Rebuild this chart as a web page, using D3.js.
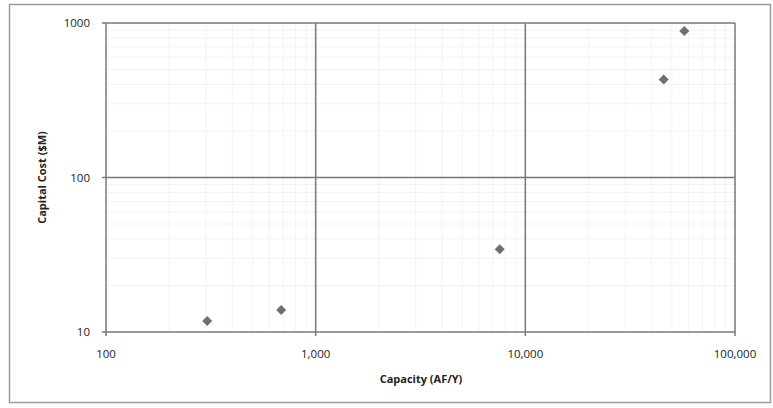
<!DOCTYPE html>
<html>
<head>
<meta charset="utf-8">
<script src="https://cdn.jsdelivr.net/npm/d3@7"></script>
<style>
  body { margin: 0; background: #fff; }
  text { font-family: "Open Sans", Lato, sans-serif; fill: #222; }
</style>
</head>
<body>
<div id="chart"></div>
<script>
// data
const capacity = [304, 685, 7550, 45700, 57300];     // AF/Y
const capitalCost = [11.8, 13.9, 34.3, 431, 888];    // $M
const xTicks = [100, 1000, 10000, 100000];
const yTicks = [10, 100, 1000];

const width = 773;
const height = 408;
const margin = { top: 23, right: 38, bottom: 76, left: 106 };

const svg = d3.select("#chart")
  .append("svg")
  .attr("width", width)
  .attr("height", height);

// outer frame
svg.append("rect")
  .attr("x", 9.5).attr("y", 4.5)
  .attr("width", 761).attr("height", 398)
  .attr("fill", "none")
  .attr("stroke", "#9a9a9a")
  .attr("stroke-width", 1.5);

const x = d3.scaleLog()
  .domain([100, 100000])
  .range([margin.left, width - margin.right]);

const y = d3.scaleLog()
  .domain([10, 1000])
  .range([height - margin.bottom, margin.top]);

// faint minor grid (scan texture)
const minorX = [];
for (let d = 100; d < 100000; d *= 10) for (let k = 2; k < 10; k++) minorX.push(d * k);
const minorY = [];
for (let d = 10; d < 1000; d *= 10) for (let k = 2; k < 10; k++) minorY.push(d * k);

svg.append("g").selectAll("line")
  .data(minorX).enter().append("line")
  .attr("x1", d => x(d)).attr("x2", d => x(d))
  .attr("y1", y(10)).attr("y2", y(1000))
  .attr("stroke", "#f3f3f3").attr("stroke-width", 1);

svg.append("g").selectAll("line")
  .data(minorY).enter().append("line")
  .attr("x1", x(100)).attr("x2", x(100000))
  .attr("y1", d => y(d)).attr("y2", d => y(d))
  .attr("stroke", "#f3f3f3").attr("stroke-width", 1);

// major gridlines
svg.append("g").selectAll("line")
  .data(xTicks).enter().append("line")
  .attr("x1", d => x(d)).attr("x2", d => x(d))
  .attr("y1", y(10) + 4).attr("y2", y(1000))
  .attr("stroke", "#777").attr("stroke-width", 1.5);

svg.append("g").selectAll("line")
  .data(yTicks).enter().append("line")
  .attr("x1", x(100) - 4).attr("x2", x(100000))
  .attr("y1", d => y(d)).attr("y2", d => y(d))
  .attr("stroke", "#777").attr("stroke-width", 1.5);

// tick labels
svg.append("g").selectAll("text")
  .data(xTicks).enter().append("text")
  .attr("x", d => x(d))
  .attr("y", y(10) + 26)
  .attr("text-anchor", "middle")
  .style("font-size", "11.5px")
  .text(d => d3.format(",")(d));

svg.append("g").selectAll("text")
  .data(yTicks).enter().append("text")
  .attr("x", x(100) - 16)
  .attr("y", d => y(d))
  .attr("dy", "0.35em")
  .attr("text-anchor", "end")
  .style("font-size", "11.5px")
  .text(d => d);

// axis titles
svg.append("text")
  .attr("x", 421)
  .attr("y", 383)
  .attr("text-anchor", "middle")
  .style("font-size", "11px")
  .style("font-weight", "bold")
  .text("Capacity (AF/Y)");

svg.append("text")
  .attr("transform", `translate(46, ${(y(10) + y(1000)) / 2}) rotate(-90)`)
  .attr("text-anchor", "middle")
  .style("font-size", "11px")
  .style("font-weight", "bold")
  .text("Capital Cost ($M)");

// diamond markers
svg.append("g").selectAll("path")
  .data(capacity.map((c, i) => [c, capitalCost[i]]))
  .enter().append("path")
  .attr("transform", d => `translate(${x(d[0])}, ${y(d[1])})`)
  .attr("d", d3.symbol().type(d3.symbolDiamond2).size(64))
  .attr("fill", "#6f6f6f");
</script>
</body>
</html>
